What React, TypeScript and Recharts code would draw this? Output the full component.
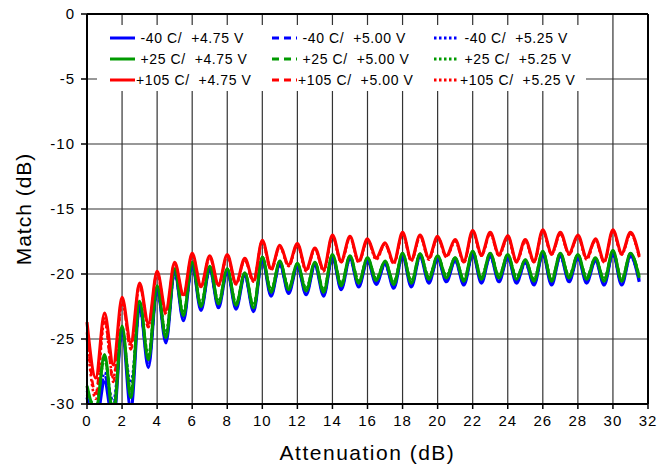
import React from "react";
import { LineChart, Line, XAxis, YAxis, CartesianGrid, ReferenceLine, Legend } from "recharts";

// attenuation setting (dB): peaks sit on whole dB, troughs on the half steps
const attenuation = [
  0, 0.5, 1, 1.5, 2, 2.5, 3, 3.5,
  4, 4.5, 5, 5.5, 6, 6.5, 7, 7.5,
  8, 8.5, 9, 9.5, 10, 10.5, 11, 11.5,
  12, 12.5, 13, 13.5, 14, 14.5, 15, 15.5,
  16, 16.5, 17, 17.5, 18, 18.5, 19, 19.5,
  20, 20.5, 21, 21.5, 22, 22.5, 23, 23.5,
  24, 24.5, 25, 25.5, 26, 26.5, 27, 27.5,
  28, 28.5, 29, 29.5, 30, 30.5, 31, 31.5,
];

// match (dB), -40 C
const blue475 = [
  -29.5, -31.5, -28.3, -31.5, -24.3, -30.5, -22.4, -27.2,
  -21.1, -25.3, -19.8, -23.6, -19.3, -22.8, -19.6, -22.6,
  -19.8, -22.7, -20.1, -22.9, -18.9, -21.7, -19.2, -21.5,
  -19.4, -21.6, -19.3, -21.7, -18.7, -21.2, -18.8, -21.0,
  -18.95, -20.8, -19.2, -21.1, -18.6, -21.0, -18.65, -20.7,
  -18.8, -20.6, -18.95, -20.85, -18.45, -20.7, -18.6, -20.6,
  -18.7, -20.7, -19.1, -20.85, -18.45, -20.85, -18.6, -20.6,
  -18.7, -20.7, -18.95, -20.85, -18.4, -20.85, -18.6, -20.6,
];
const blue500 = [
  -29.0, -31.0, -27.8, -30.8, -24.4, -29.6, -22.5, -27.0,
  -21.2, -25.1, -19.9, -23.5, -19.3, -22.7, -19.6, -22.5,
  -19.8, -22.6, -20.1, -22.8, -18.9, -21.6, -19.2, -21.4,
  -19.4, -21.5, -19.3, -21.6, -18.7, -21.1, -18.8, -20.9,
  -18.95, -20.7, -19.2, -21.0, -18.6, -20.9, -18.65, -20.6,
  -18.8, -20.5, -18.95, -20.75, -18.45, -20.6, -18.6, -20.5,
  -18.7, -20.6, -19.1, -20.75, -18.45, -20.75, -18.6, -20.5,
  -18.7, -20.6, -18.95, -20.75, -18.4, -20.75, -18.6, -20.5,
];
const blue525 = [
  -29.3, -30.6, -27.6, -29.8, -24.6, -28.4, -22.7, -26.6,
  -21.3, -24.8, -20.0, -23.3, -19.4, -22.6, -19.7, -22.4,
  -19.9, -22.5, -20.2, -22.7, -19.0, -21.5, -19.3, -21.3,
  -19.5, -21.4, -19.4, -21.5, -18.8, -21.0, -18.9, -20.8,
  -19.0, -20.6, -19.3, -20.9, -18.7, -20.8, -18.7, -20.5,
  -18.9, -20.4, -19.0, -20.7, -18.5, -20.5, -18.7, -20.4,
  -18.8, -20.5, -19.2, -20.7, -18.5, -20.7, -18.7, -20.4,
  -18.8, -20.5, -19.0, -20.7, -18.5, -20.7, -18.7, -20.4,
];

// +25 C
const green475 = [
  -28.6, -30.6, -26.2, -31.0, -24.0, -29.5, -22.1, -26.6,
  -20.9, -24.9, -19.6, -23.2, -19.1, -22.5, -19.4, -22.3,
  -19.6, -22.4, -19.9, -22.6, -18.7, -21.4, -19.0, -21.2,
  -19.2, -21.3, -19.1, -21.4, -18.5, -20.9, -18.6, -20.7,
  -18.75, -20.5, -19.0, -20.8, -18.4, -20.7, -18.45, -20.4,
  -18.6, -20.3, -18.75, -20.55, -18.25, -20.4, -18.4, -20.3,
  -18.5, -20.4, -18.9, -20.55, -18.25, -20.55, -18.4, -20.3,
  -18.5, -20.4, -18.75, -20.55, -18.2, -20.55, -18.4, -20.3,
];
const green500 = [
  -28.8, -30.4, -26.4, -30.7, -24.1, -29.2, -22.2, -26.4,
  -21.0, -24.7, -19.7, -23.1, -19.1, -22.4, -19.4, -22.2,
  -19.6, -22.3, -19.9, -22.5, -18.7, -21.3, -19.0, -21.1,
  -19.2, -21.2, -19.1, -21.3, -18.5, -20.8, -18.6, -20.6,
  -18.75, -20.4, -19.0, -20.7, -18.4, -20.6, -18.45, -20.3,
  -18.6, -20.2, -18.75, -20.45, -18.25, -20.3, -18.4, -20.2,
  -18.5, -20.3, -18.9, -20.45, -18.25, -20.45, -18.4, -20.2,
  -18.5, -20.3, -18.75, -20.45, -18.2, -20.45, -18.4, -20.2,
];
const green525 = [
  -29.0, -30.2, -26.6, -30.3, -24.2, -28.9, -22.3, -26.2,
  -21.1, -24.5, -19.8, -23.0, -19.2, -22.3, -19.5, -22.1,
  -19.7, -22.2, -20.0, -22.4, -18.8, -21.2, -19.1, -21.0,
  -19.3, -21.1, -19.2, -21.2, -18.6, -20.7, -18.7, -20.5,
  -18.8, -20.3, -19.1, -20.6, -18.5, -20.5, -18.5, -20.2,
  -18.7, -20.1, -18.8, -20.4, -18.3, -20.2, -18.5, -20.1,
  -18.6, -20.2, -19.0, -20.4, -18.3, -20.4, -18.5, -20.1,
  -18.6, -20.2, -18.8, -20.4, -18.3, -20.4, -18.5, -20.1,
];

// +105 C
const red475 = [
  -23.7, -28.0, -23.0, -27.0, -21.8, -25.3, -20.7, -23.8,
  -19.8, -22.8, -19.1, -21.6, -18.4, -20.9, -18.6, -20.8,
  -18.5, -20.7, -18.8, -20.5, -17.4, -19.6, -17.8, -19.3,
  -17.65, -19.65, -18.0, -19.65, -17.0, -19.0, -17.1, -19.0,
  -17.3, -18.75, -17.6, -19.1, -16.8, -18.9, -17.0, -18.75,
  -17.1, -18.6, -17.35, -19.0, -16.65, -18.5, -16.8, -18.5,
  -17.05, -19.0, -17.35, -19.0, -16.6, -18.4, -16.8, -18.4,
  -17.0, -18.75, -17.3, -19.0, -16.6, -18.4, -16.8, -18.6,
];
const red500 = [
  -24.5, -29.2, -23.3, -28.3, -22.0, -25.8, -20.8, -24.1,
  -19.9, -23.1, -19.2, -21.8, -18.5, -21.0, -18.7, -20.9,
  -18.6, -20.8, -18.9, -20.6, -17.5, -19.7, -17.9, -19.4,
  -17.7, -19.7, -18.1, -19.7, -17.1, -19.1, -17.2, -19.1,
  -17.4, -18.8, -17.7, -19.2, -16.9, -19.0, -17.1, -18.8,
  -17.2, -18.7, -17.4, -19.1, -16.7, -18.6, -16.9, -18.6,
  -17.1, -19.1, -17.4, -19.1, -16.7, -18.5, -16.9, -18.5,
  -17.1, -18.8, -17.4, -19.1, -16.7, -18.5, -16.9, -18.7,
];
const red525 = [
  -25.0, -29.6, -23.6, -28.0, -22.2, -25.6, -20.9, -24.0,
  -20.0, -23.0, -19.3, -21.7, -18.6, -21.0, -18.7, -20.9,
  -18.6, -20.8, -18.9, -20.6, -17.5, -19.7, -17.9, -19.4,
  -17.8, -19.8, -18.1, -19.8, -17.1, -19.1, -17.2, -19.1,
  -17.4, -18.9, -17.7, -19.2, -16.9, -19.0, -17.1, -18.9,
  -17.2, -18.7, -17.5, -19.1, -16.8, -18.6, -16.9, -18.6,
  -17.2, -19.1, -17.5, -19.1, -16.7, -18.5, -16.9, -18.5,
  -17.1, -18.9, -17.4, -19.1, -16.7, -18.5, -16.9, -18.7,
];

const xTicks = [0, 2, 4, 6, 8, 10, 12, 14, 16, 18, 20, 22, 24, 26, 28, 30, 32];
const yTicks = [0, -5, -10, -15, -20, -25, -30];
const yMinorTicks = [
  -1, -2, -3, -4, -6, -7, -8, -9, -11, -12, -13, -14,
  -16, -17, -18, -19, -21, -22, -23, -24, -26, -27, -28, -29,
];
const xMinorTicks = Array.from({ length: 161 }, (_, i) => i / 5);

const BLUE = "#0000ff";
const GREEN = "#009a00";
const RED = "#ff0000";
const DASH = "7 5";
const DOT = "2.5 2.5";

const series = [
  { key: "b475", name: " -40 C/  +4.75 V", values: blue475, color: BLUE, dash: undefined },
  { key: "b500", name: " -40 C/  +5.00 V", values: blue500, color: BLUE, dash: DASH },
  { key: "b525", name: " -40 C/  +5.25 V", values: blue525, color: BLUE, dash: DOT },
  { key: "g475", name: " +25 C/  +4.75 V", values: green475, color: GREEN, dash: undefined },
  { key: "g500", name: " +25 C/  +5.00 V", values: green500, color: GREEN, dash: DASH },
  { key: "g525", name: " +25 C/  +5.25 V", values: green525, color: GREEN, dash: DOT },
  { key: "r475", name: "+105 C/  +4.75 V", values: red475, color: RED, dash: undefined },
  { key: "r500", name: "+105 C/  +5.00 V", values: red500, color: RED, dash: DASH },
  { key: "r525", name: "+105 C/  +5.25 V", values: red525, color: RED, dash: DOT },
];

// solid traces go on top
const drawOrder = ["b525", "b500", "g525", "g500", "r525", "r500", "b475", "g475", "r475"];

const rows = attenuation.map((a, i) => {
  const row: Record<string, number> = { a };
  series.forEach((s) => (row[s.key] = s.values[i]));
  return row;
});

const FONT = '"Liberation Sans", Arial, Helvetica, sans-serif';

const LegendGrid = () => (
  <div
    style={{
      display: "grid",
      gridTemplateColumns: "162px 162px 162px",
      paddingLeft: 13,
      paddingTop: 2,
      fontFamily: FONT,
      fontSize: 14,
      letterSpacing: 0.6,
      color: "#000",
    }}
  >
    {series.map((s) => (
      <div key={s.key} style={{ display: "flex", alignItems: "center", height: 21.3 }}>
        <svg width={25} height={6} style={{ flex: "none" }}>
          <line x1={0} y1={3} x2={25} y2={3} stroke={s.color} strokeWidth={3} strokeDasharray={s.dash} />
        </svg>
        <span style={{ marginLeft: 1, whiteSpace: "pre" }}>{s.name}</span>
      </div>
    ))}
  </div>
);

const XTitle = (props: any) => {
  const { viewBox } = props;
  return (
    <text
      x={viewBox.x + viewBox.width / 2}
      y={viewBox.y + viewBox.height - 8}
      textAnchor="middle"
      fontSize={21}
      letterSpacing={1.5}
      fill="#000"
    >
      Attenuation (dB)
    </text>
  );
};

const YTitle = (props: any) => {
  const { viewBox } = props;
  const cy = viewBox.y + viewBox.height / 2;
  return (
    <text
      x={31}
      y={cy}
      transform={`rotate(-90, 31, ${cy})`}
      textAnchor="middle"
      fontSize={21}
      letterSpacing={1}
      fill="#000"
    >
      Match (dB)
    </text>
  );
};

const tickStyle = { fill: "#000", fontSize: 15, letterSpacing: 1 };

export default function App() {
  return (
    <div style={{ position: "absolute", left: 0, top: 0, fontFamily: FONT, background: "#fff" }}>
      <LineChart width={672} height={468} data={rows} margin={{ top: 14, right: 24, bottom: 0, left: 0 }}>
        <CartesianGrid stroke="#333" strokeWidth={1.2} />
        <XAxis
          dataKey="a"
          type="number"
          domain={[0, 32]}
          ticks={xTicks}
          interval={0}
          height={64}
          tickSize={5}
          tickMargin={6}
          tick={tickStyle}
          axisLine={{ stroke: "#000", strokeWidth: 2 }}
          tickLine={{ stroke: "#000", strokeWidth: 1.5 }}
          label={<XTitle />}
        />
        <XAxis
          xAxisId="minor"
          type="number"
          domain={[0, 32]}
          ticks={xMinorTicks}
          interval={0}
          mirror
          tickSize={3}
          tick={false}
          axisLine={false}
          tickLine={{ stroke: "#000", strokeWidth: 1 }}
        />
        <YAxis
          type="number"
          domain={[-30, 0]}
          ticks={yTicks}
          interval={0}
          allowDataOverflow
          width={87}
          tickSize={6}
          tickMargin={6}
          tick={tickStyle}
          axisLine={{ stroke: "#000", strokeWidth: 2 }}
          tickLine={{ stroke: "#000", strokeWidth: 1.5 }}
          label={<YTitle />}
        />
        <YAxis
          yAxisId="minor"
          type="number"
          domain={[-30, 0]}
          ticks={yMinorTicks}
          interval={0}
          mirror
          tickSize={5}
          tick={false}
          axisLine={false}
          tickLine={{ stroke: "#000", strokeWidth: 1.2 }}
        />
        <ReferenceLine y={0} stroke="#000" strokeWidth={2} />
        <ReferenceLine x={32} stroke="#000" strokeWidth={2} />
        {drawOrder.map((k) => {
          const s = series.find((v) => v.key === k)!;
          return (
            <Line
              key={s.key}
              dataKey={s.key}
              name={s.name}
              type="monotone"
              stroke={s.color}
              strokeWidth={s.dash ? 2.6 : 3.1}
              strokeDasharray={s.dash}
              dot={false}
              activeDot={false}
              isAnimationActive={false}
            />
          );
        })}
        <Legend
          layout="horizontal"
          verticalAlign="middle"
          align="center"
          content={<LegendGrid />}
          wrapperStyle={{ left: 97, top: 25, width: 489, height: 66, backgroundColor: "#fff" }}
        />
      </LineChart>
    </div>
  );
}
